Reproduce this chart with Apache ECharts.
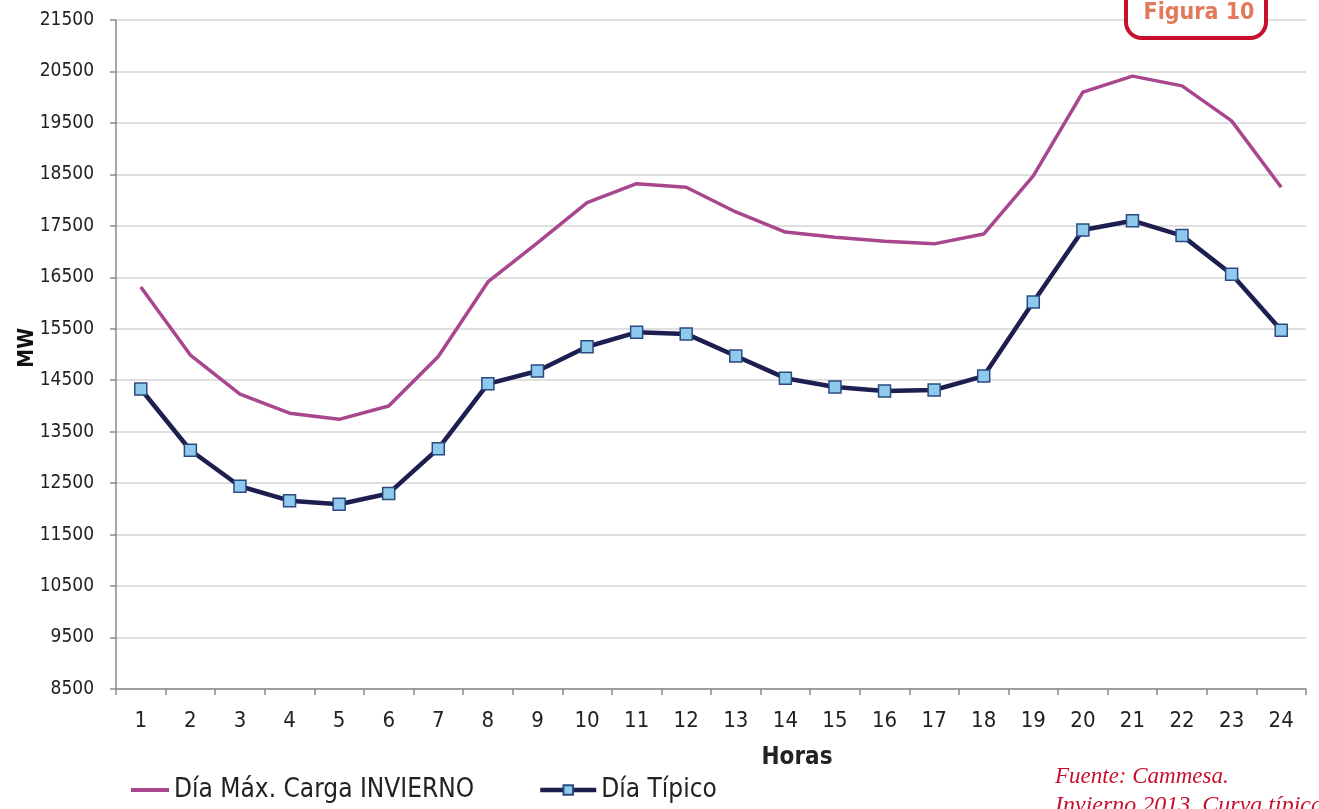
<!DOCTYPE html>
<html>
<head>
<meta charset="utf-8">
<script src="https://cdn.jsdelivr.net/npm/echarts@6/dist/echarts.min.js"></script>
<style>
html,body{margin:0;padding:0;background:#fff;}
#chart{width:1319px;height:809px;}
</style>
</head>
<body>
<div id="chart"></div>
<script>
const hours = ['1','2','3','4','5','6','7','8','9','10','11','12','13','14','15','16','17','18','19','20','21','22','23','24'];
const maxInvierno = [16310, 14990, 14230, 13860, 13740, 14000, 14960, 16410, 17170, 17950, 18320, 18250, 17770, 17380, 17280, 17200, 17150, 17340, 18470, 20100, 20410, 20220, 19540, 18250];
const diaTipico = [14330, 13140, 12440, 12160, 12090, 12300, 13170, 14430, 14680, 15150, 15430, 15400, 14970, 14540, 14370, 14290, 14310, 14580, 16020, 17420, 17600, 17310, 16560, 15470];
const yTicks = [8500, 9500, 10500, 11500, 12500, 13500, 14500, 15500, 16500, 17500, 18500, 19500, 20500, 21500];
const seriesNames = ['Día Máx. Carga INVIERNO', 'Día Típico'];

const chart = echarts.init(document.getElementById('chart'));
const FONT = '"DejaVu Sans Condensed", "DejaVu Sans", sans-serif';
chart.setOption({
  backgroundColor: '#ffffff',
  animation: false,
  grid: { left: 116, right: 13, top: 20, bottom: 120, containLabel: false },
  xAxis: {
    type: 'category',
    data: hours,
    boundaryGap: true,
    axisLine: { show: true, lineStyle: { color: '#8a8a8a', width: 1.5 } },
    axisTick: { show: true, length: 6, lineStyle: { color: '#8a8a8a', width: 1.5 } },
    axisLabel: { margin: 21, fontSize: 22, color: '#222', fontFamily: FONT },
    splitLine: { show: false }
  },
  yAxis: {
    type: 'value',
    min: 8500,
    max: 21500,
    axisLine: { show: true, lineStyle: { color: '#8a8a8a', width: 1.5 } },
    axisTick: { show: true, length: 6, inside: false, customValues: yTicks, lineStyle: { color: '#8a8a8a', width: 1.5 } },
    axisLabel: { customValues: yTicks, margin: 22, fontSize: 19, color: '#222', fontFamily: FONT, formatter: function (v) { return String(v); } },
    splitLine: { show: true, lineStyle: { color: '#d4d4d4', width: 1.5 } }
  },
  legend: [
    {
      data: [seriesNames[0]],
      left: 126, top: 772,
      icon: 'rect', itemWidth: 38, itemHeight: 4,
      textStyle: { fontSize: 26, color: '#222', fontFamily: FONT },
      itemGap: 0
    },
    {
      data: [seriesNames[1]],
      left: 533, top: 772,
      itemWidth: 56, itemHeight: 12,
      lineStyle: { width: 4.5, color: '#1c1f4f' },
      textStyle: { fontSize: 26, color: '#222', fontFamily: FONT }
    }
  ],
  series: [
    {
      name: seriesNames[0],
      type: 'line',
      data: maxInvierno,
      symbol: 'none',
      lineStyle: { color: '#a8468e', width: 3.5 },
      itemStyle: { color: '#a8468e' },
      z: 2
    },
    {
      name: seriesNames[1],
      type: 'line',
      data: diaTipico,
      symbol: 'rect',
      symbolSize: 12,
      showAllSymbol: true,
      lineStyle: { color: '#1c1f4f', width: 4.5 },
      itemStyle: { color: '#8fcaee', borderColor: '#2b4a7e', borderWidth: 1.5 },
      z: 3
    }
  ],
  graphic: [
    {
      type: 'text', left: 17, top: 328, rotation: Math.PI / 2,
      style: { text: 'MW', font: 'bold 21px ' + FONT, fill: '#111' }
    },
    {
      type: 'text', x: 797, y: 758,
      style: { text: 'Horas', font: 'bold 24px ' + FONT, fill: '#222', textAlign: 'center', textVerticalAlign: 'middle' }
    },
    {
      type: 'rect', z: 10,
      shape: { x: 1126, y: -22, width: 140, height: 60, r: 16 },
      style: { fill: '#ffffff', stroke: '#c8102e', lineWidth: 4 }
    },
    {
      type: 'text', z: 11, x: 1199, y: 13,
      style: { text: 'Figura 10', font: 'bold 23px ' + FONT, fill: '#e07a5a', textAlign: 'center', textVerticalAlign: 'middle' }
    },
    {
      type: 'text', x: 1055, y: 777,
      style: { text: 'Fuente: Cammesa.', font: 'italic 23px "Liberation Serif", serif', fill: '#c8102e', textVerticalAlign: 'middle' }
    },
    {
      type: 'text', x: 1055, y: 806,
      style: { text: 'Invierno 2013. Curva típica', font: 'italic 24px "Liberation Serif", serif', fill: '#c8102e', textVerticalAlign: 'middle' }
    }
  ]
});
</script>
</body>
</html>
